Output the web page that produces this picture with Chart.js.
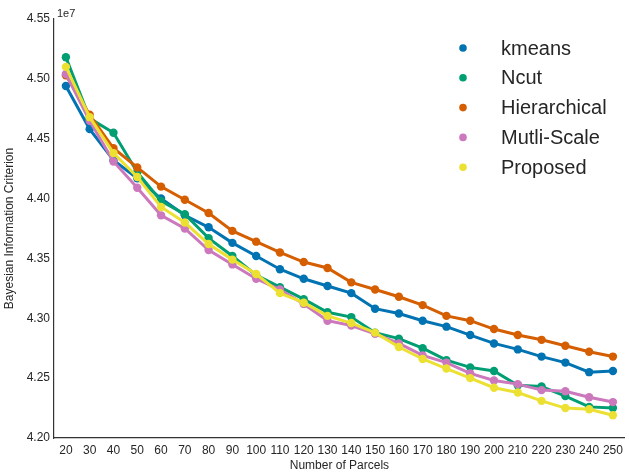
<!DOCTYPE html>
<html>
<head>
<meta charset="utf-8">
<script src="https://cdn.jsdelivr.net/npm/chart.js@4.4.0/dist/chart.umd.min.js"></script>
<style>
html, body { margin: 0; padding: 0; background: #fff; }
</style>
</head>
<body>
<canvas id="myChart" width="629" height="476"></canvas>
<script>
// Number of parcels (x categories)
const parcels = [20, 30, 40, 50, 60, 70, 80, 90, 100, 110, 120, 130, 140, 150, 160, 170, 180, 190, 200, 210, 220, 230, 240, 250];

// BIC values, in units of 1e7
const kmeans = [4.494, 4.458, 4.432, 4.417, 4.400, 4.386, 4.376, 4.363, 4.352, 4.341, 4.333, 4.327, 4.321, 4.308, 4.304, 4.298, 4.293, 4.286, 4.279, 4.274, 4.268, 4.263, 4.255, 4.256];
const ncut = [4.518, 4.467, 4.455, 4.422, 4.398, 4.387, 4.367, 4.352, 4.336, 4.326, 4.316, 4.305, 4.301, 4.288, 4.283, 4.275, 4.265, 4.259, 4.256, 4.244, 4.243, 4.235, 4.226, 4.225];
const hierarchical = [4.503, 4.470, 4.442, 4.426, 4.410, 4.399, 4.388, 4.373, 4.364, 4.355, 4.347, 4.342, 4.330, 4.324, 4.318, 4.311, 4.302, 4.298, 4.291, 4.286, 4.282, 4.277, 4.272, 4.268];
const multiScale = [4.504, 4.465, 4.431, 4.409, 4.386, 4.375, 4.357, 4.345, 4.333, 4.324, 4.312, 4.298, 4.294, 4.287, 4.279, 4.269, 4.263, 4.254, 4.248, 4.245, 4.240, 4.239, 4.234, 4.230];
const proposed = [4.510, 4.468, 4.438, 4.418, 4.393, 4.380, 4.362, 4.349, 4.337, 4.321, 4.313, 4.302, 4.296, 4.288, 4.276, 4.266, 4.258, 4.250, 4.242, 4.238, 4.231, 4.225, 4.224, 4.219];

const seriesNames = ['kmeans', 'Ncut', 'Hierarchical', 'Mutli-Scale', 'Proposed'];
const seriesData = [kmeans, ncut, hierarchical, multiScale, proposed];
const seriesColors = ['#0173b2', '#029e73', '#d55e00', '#cc78bc', '#ece133'];

const yTicks = [4.20, 4.25, 4.30, 4.35, 4.40, 4.45, 4.50, 4.55];

const FONT = "'Liberation Sans', Arial, Helvetica, sans-serif";
const TEXT = '#262626';

// legend drawn inside the plot, top right, markers only
const legendPlugin = {
    id: 'bicLegend',
    afterDraw(chart) {
        const ctx = chart.ctx;
        ctx.save();
        ctx.font = '20px ' + FONT;
        ctx.textBaseline = 'middle';
        ctx.textAlign = 'left';
        seriesNames.forEach(function (name, i) {
            const y = 48 + i * 29.8;
            ctx.fillStyle = seriesColors[i];
            ctx.beginPath();
            ctx.arc(463, y, 3.8, 0, Math.PI * 2);
            ctx.fill();
            ctx.fillStyle = TEXT;
            ctx.fillText(name, 501, y + 1);
        });
        // scale offset text
        ctx.font = '11px ' + FONT;
        ctx.textBaseline = 'alphabetic';
        ctx.fillText('1e7', 57, 17);
        ctx.restore();
    }
};

const myChart = new Chart(
    document.getElementById('myChart'),
    {
        type: 'line',
        data: {
            labels: parcels,
            datasets: seriesData.map(function (values, i) {
                return {
                    label: seriesNames[i],
                    data: values,
                    borderColor: seriesColors[i],
                    backgroundColor: seriesColors[i],
                    borderWidth: 3,
                    pointRadius: 4.2,
                    pointBorderWidth: 0,
                    fill: false,
                    tension: 0,
                    order: seriesData.length - i  // later series on top
                };
            })
        },
        options: {
            responsive: false,
            animation: false,
            layout: {padding: {top: 19, right: 1, left: 0, bottom: 0}},
            plugins: {
                legend: {display: false},
                tooltip: {enabled: false}
            },
            scales: {
                x: {
                    offset: true,
                    grid: {display: false, drawTicks: false},
                    border: {display: true, color: '#333', width: 1.2},
                    ticks: {
                        color: TEXT,
                        font: {family: FONT, size: 12},
                        autoSkip: false,
                        maxRotation: 0,
                        padding: 5
                    },
                    title: {
                        display: true,
                        text: 'Number of Parcels',
                        color: TEXT,
                        font: {family: FONT, size: 12},
                        padding: {top: 0, bottom: 3}
                    },
                    afterFit(scale) { scale.height = 38; }
                },
                y: {
                    min: 4.20,
                    max: 4.55,
                    grid: {display: false, drawTicks: false},
                    border: {display: true, color: '#333', width: 1.2},
                    afterBuildTicks(scale) {
                        scale.ticks = yTicks.map(function (v) { return {value: v}; });
                    },
                    ticks: {
                        color: TEXT,
                        font: {family: FONT, size: 12},
                        padding: 4,
                        callback: function (value) { return value.toFixed(2); }
                    },
                    title: {
                        display: true,
                        text: 'Bayesian Information Criterion',
                        color: TEXT,
                        font: {family: FONT, size: 12},
                        padding: {top: 2, bottom: 0}
                    },
                    afterFit(scale) { scale.width = 54; }
                }
            }
        },
        plugins: [legendPlugin]
    }
);
</script>
</body>
</html>
